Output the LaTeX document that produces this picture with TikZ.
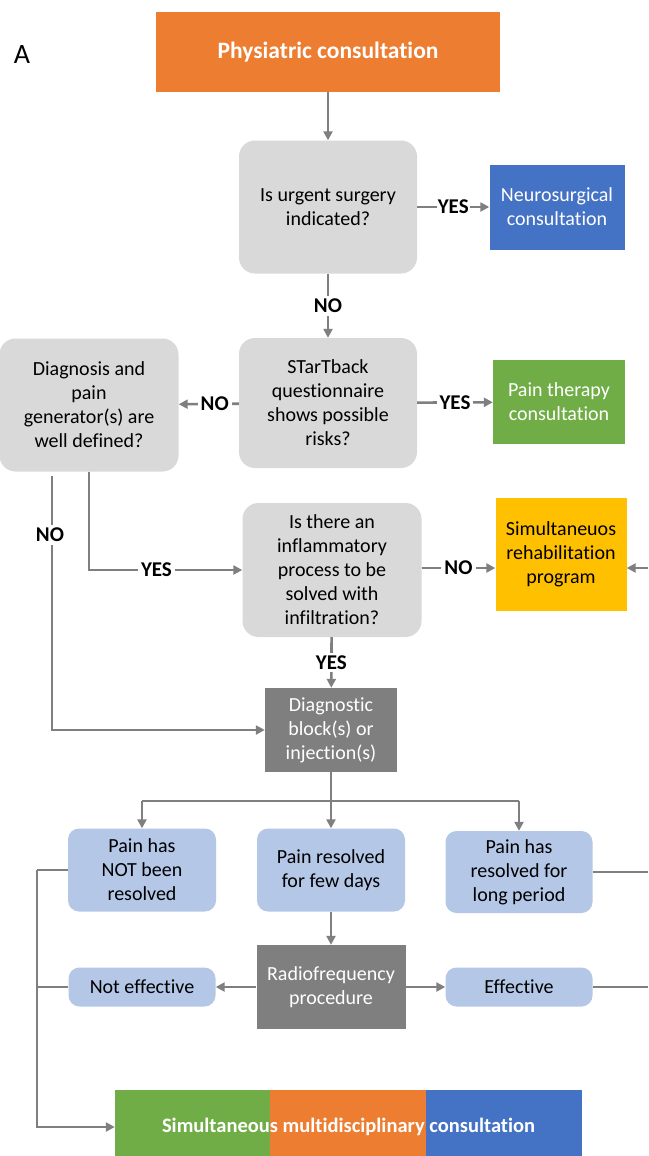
\documentclass[tikz,border=0pt]{standalone}
\usepackage{fontspec}
\setmainfont{Carlito}[Ligatures=NoCommon]
\usetikzlibrary{arrows.meta,positioning}
\definecolor{spine_orange}{HTML}{ED7D31}
\definecolor{spine_blue}{HTML}{4472C4}
\definecolor{spine_green}{HTML}{70AD47}
\definecolor{spine_yellow}{HTML}{FFC000}
\definecolor{spine_lgray}{HTML}{D9D9D9}
\definecolor{spine_dgray}{HTML}{7F7F7F}
\definecolor{spine_lblue}{HTML}{B4C7E7}
\definecolor{spine_line}{HTML}{7F7F7F}

\begin{document}
\begin{tikzpicture}[
      x=1pt, y=-1pt,
      question/.style={fill=spine_lgray, rounded corners=16pt, inner sep=0pt,
                  align=center, font=\fontsize{20}{24}\selectfont},
      outcome/.style={fill=spine_lblue, rounded corners=11pt, inner sep=0pt,
                  align=center, font=\fontsize{20}{24}\selectfont},
      consult/.style={inner sep=0pt, align=center, text=white,
                  font=\fontsize{20}{24}\selectfont},
      procbox/.style={fill=spine_dgray, inner sep=0pt, align=center, text=white,
                  font=\fontsize{20}{24}\selectfont},
      arr/.style={-{Triangle[length=9pt,width=9pt]}, spine_line, line width=2.6pt},
      lnk/.style={spine_line, line width=2.6pt},
      lbl/.style={font=\fontsize{21}{22}\selectfont\bfseries, text=black, fill=white, inner sep=3pt},
    ]
    \fill[white] (0,0) rectangle (648,1156);
    \useasboundingbox (0,0) rectangle (648,1156);

    \node[font=\fontsize{28}{30}\selectfont] (panel) at (22,55) {A};

    % top row
    \node[fill=spine_orange, minimum width=344pt, minimum height=80pt, text=white,
          font=\fontsize{23.5}{26}\selectfont\bfseries] (physio) at (328,52) {Physiatric consultation};
    \node[question, minimum width=178pt, minimum height=133pt] (urgent) at (328,207)
          {Is urgent surgery\\indicated?};
    \node[consult, fill=spine_blue, minimum width=135pt, minimum height=85pt] (neuro) at (557,207)
          {Neurosurgical\\consultation};

    % second row
    \node[question, minimum width=178pt, minimum height=130pt] (startback) at (328,403)
          {STarTback\\questionnaire\\shows possible\\risks?};
    \node[consult, fill=spine_green, minimum width=132pt, minimum height=84pt] (painther) at (559,402)
          {Pain therapy\\consultation};
    \node[question, minimum width=179pt, minimum height=133pt] (diagnosis) at (89,405)
          {Diagnosis and\\pain\\generator(s) are\\well defined?};

    % infiltration
    \node[question, minimum width=179pt, minimum height=134pt] (inflam) at (332,570)
          {Is there an\\inflammatory\\process to be\\solved with\\infiltration?};
    \node[consult, fill=spine_yellow, text=black, minimum width=131pt, minimum height=113pt] (rehab) at (561,554)
          {Simultaneuos\\rehabilitation\\program};
    \node[procbox, minimum width=132pt, minimum height=84pt] (block) at (331,730)
          {Diagnostic\\block(s) or\\injection(s)};

    % outcomes
    \node[outcome, minimum width=148pt, minimum height=83pt] (notres) at (142,870)
          {Pain has\\NOT been\\resolved};
    \node[outcome, minimum width=148pt, minimum height=83pt] (fewdays) at (331,870)
          {Pain resolved\\for few days};
    \node[outcome, minimum width=147pt, minimum height=82pt] (longper) at (519,872)
          {Pain has\\resolved for\\long period};
    \node[procbox, minimum width=149pt, minimum height=84pt] (radio) at (331,987)
          {Radiofrequency\\procedure};
    \node[outcome, minimum width=147pt, minimum height=39pt] (noteff) at (142,987) {Not effective};
    \node[outcome, minimum width=147pt, minimum height=39pt] (eff) at (519,987) {Effective};

    % bottom bar
    \fill[spine_green]  (115,1090) rectangle (270,1156);
    \fill[spine_orange] (270,1090) rectangle (426,1156);
    \fill[spine_blue]   (426,1090) rectangle (582,1156);
    \node[inner sep=0pt, minimum width=467pt, minimum height=66pt, text=white,
          font=\fontsize{20.5}{22}\selectfont\bfseries] (multi) at (348.5,1127)
          {Simultaneous multidisciplinary consultation};

    \coordinate (rimrehab) at (648,568);
    \coordinate (rimlong) at (648,872);
    \coordinate (rimeff) at (648,987);
    \coordinate (bus) at (331,801);
    \coordinate (nobase) at (52,476);

    % connectors
    \draw[arr] (physio) -- (urgent);
    \draw[arr] (urgent) -- node[lbl, inner sep=1pt]{YES} (neuro);
    \draw[arr] (urgent) -- node[lbl]{NO} (startback);
    \draw[arr] (startback) -- node[lbl]{YES} (painther);
    \draw[arr] (startback) -- node[lbl, pos=0.4]{NO} (diagnosis);
    \draw[arr] (diagnosis.south -| 89,0) |- node[lbl, pos=0.72]{YES} (inflam.west);
    \draw[arr] (nobase) |- (block.west);
    \node[lbl] (nolbl) at (50,535) {NO};
    \draw[arr] (inflam.east |- rimrehab) -- node[lbl]{NO} (rehab.west |- rimrehab);
    \draw[arr] (rimrehab) -- (rehab.east |- rimrehab);
    \draw[arr] (inflam) -- node[lbl]{YES} (block);

    \draw[lnk] (block) -- (bus);
    \draw[lnk] (bus -| notres) -- (bus -| longper);
    \draw[arr] (bus -| notres) -- (notres);
    \draw[arr] (bus) -- (fewdays);
    \draw[arr] (bus -| longper) -- (longper);
    \draw[lnk] (longper) -- (rimlong);

    \draw[arr] (fewdays) -- (radio);
    \draw[arr] (radio) -- (noteff);
    \draw[arr] (radio) -- (eff);
    \draw[lnk] (eff) -- (rimeff);

    \draw[lnk] (notres.west) -- ++(-31,0) coordinate (busleft);
    \draw[lnk] (noteff.west) -| (busleft);
    \draw[arr] (busleft) |- (multi.west);
\end{tikzpicture}
\end{document}
